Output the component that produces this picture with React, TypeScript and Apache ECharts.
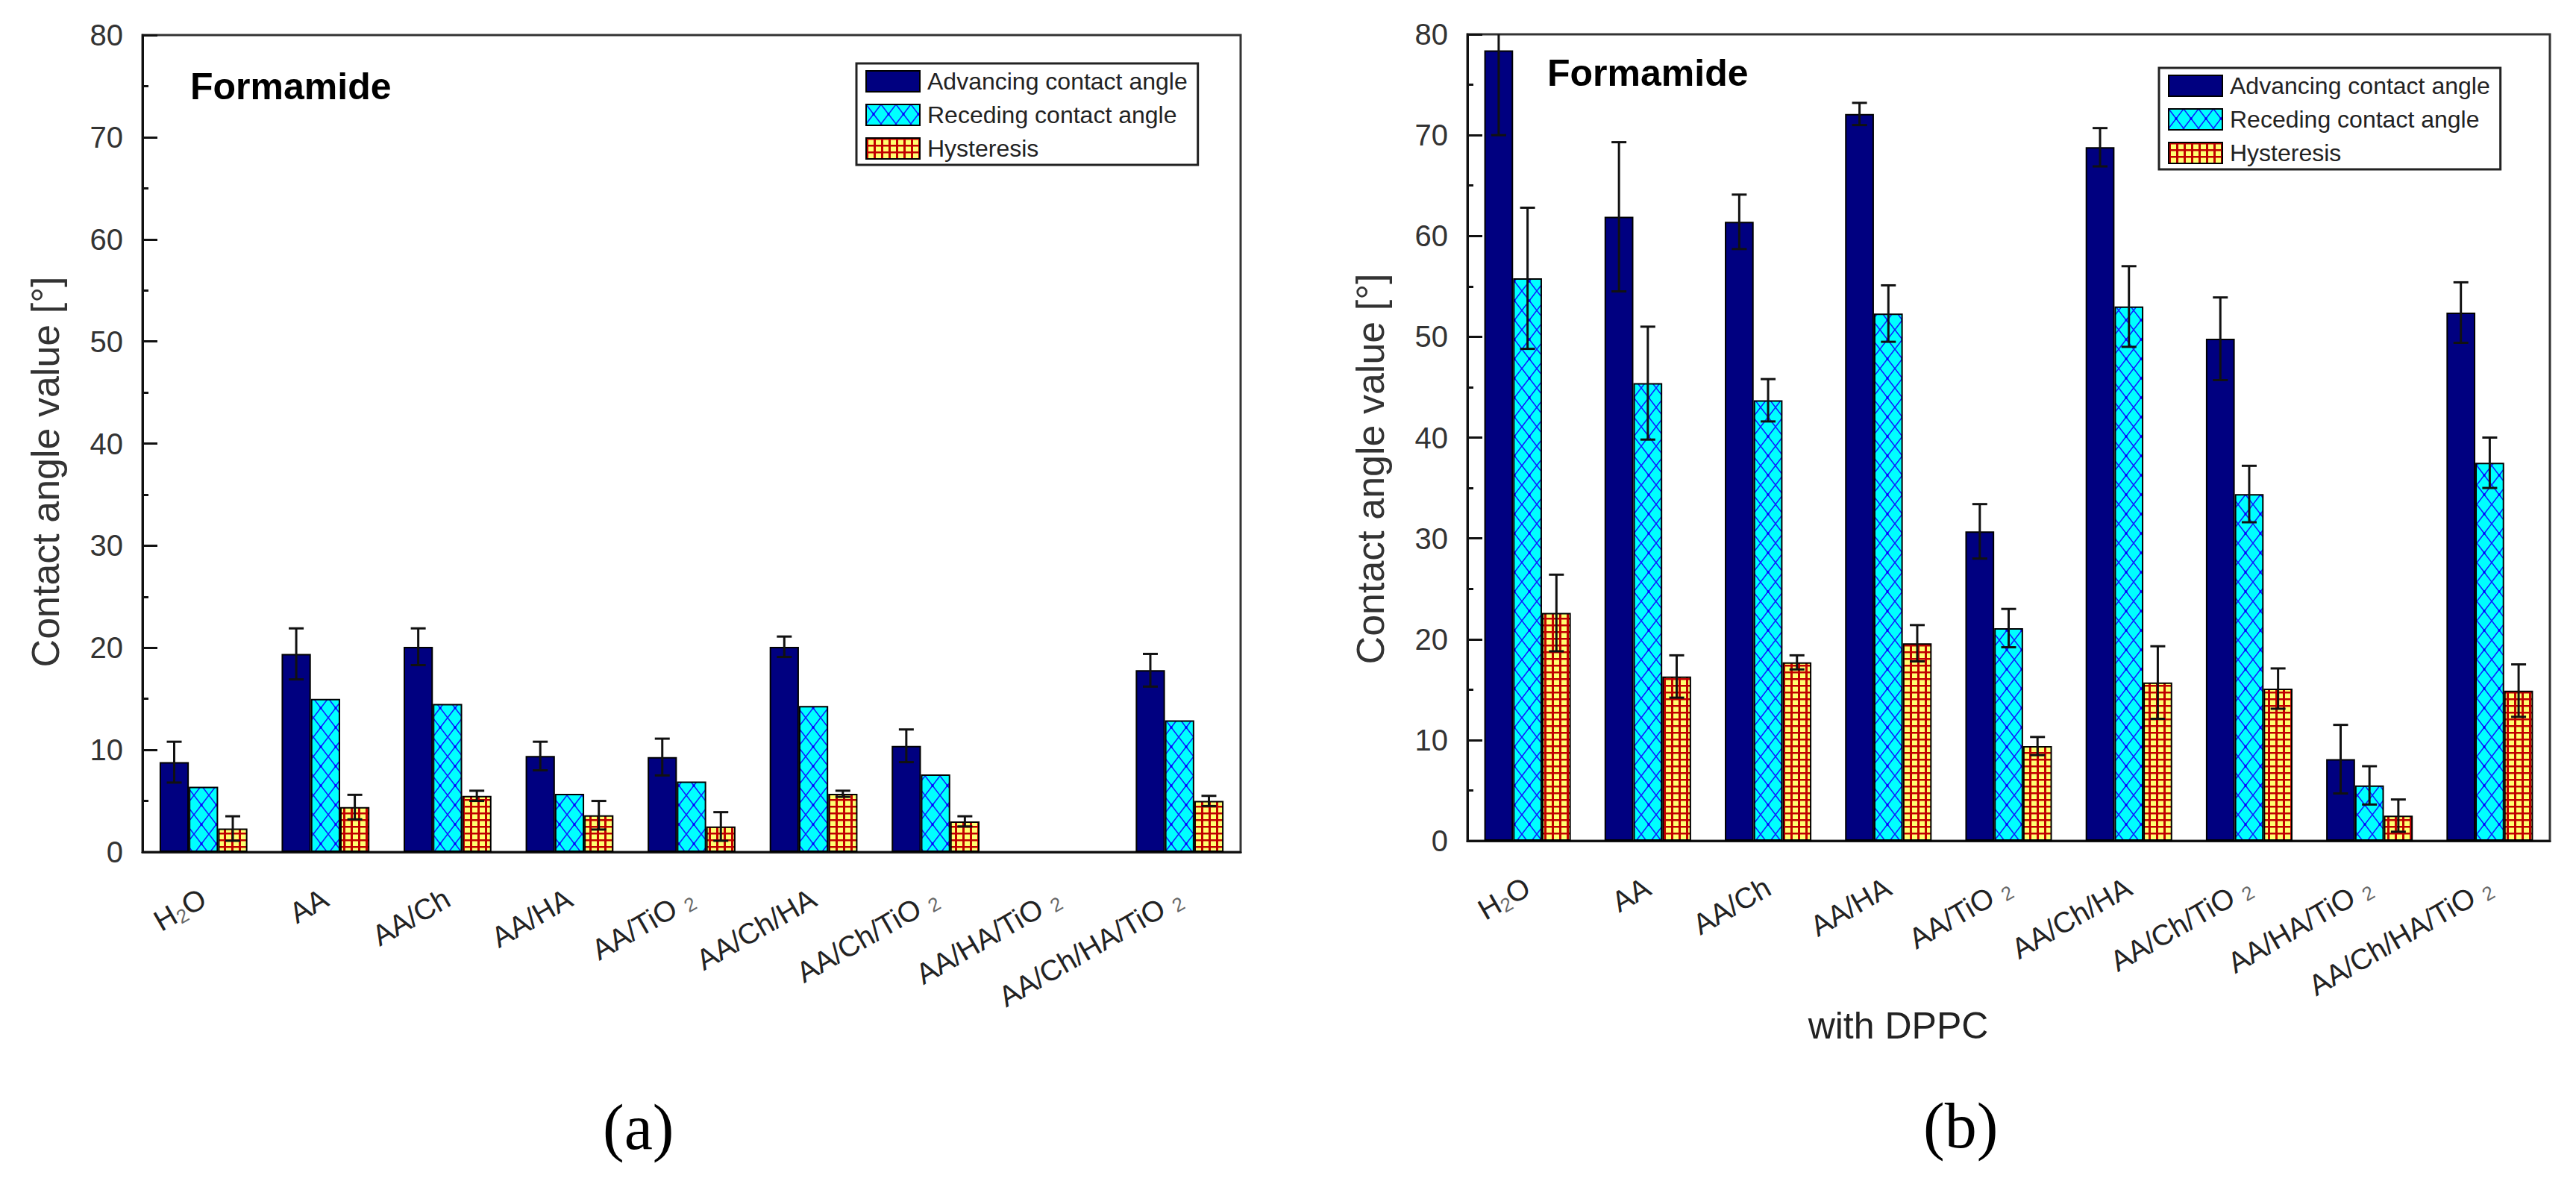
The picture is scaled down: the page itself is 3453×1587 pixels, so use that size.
import React, { useEffect, useRef } from 'react';
import * as echarts from 'echarts';

const categories = ['H2O', 'AA', 'AA/Ch', 'AA/HA', 'AA/TiO2', 'AA/Ch/HA', 'AA/Ch/TiO2', 'AA/HA/TiO2', 'AA/Ch/HA/TiO2'];
const yTicks = { min: 0, max: 80, interval: 10 };
const seriesNames = ['Advancing contact angle', 'Receding contact angle', 'Hysteresis'];

// (a) without DPPC
const leftAdvancing = [8.8, 19.4, 20.1, 9.4, 9.3, 20.1, 10.4, null, 17.8];
const leftAdvancingErr = [2.0, 2.5, 1.8, 1.4, 1.8, 1.0, 1.6, null, 1.6];
const leftReceding = [6.4, 15.0, 14.5, 5.7, 6.9, 14.3, 7.6, null, 12.9];
const leftHysteresis = [2.3, 4.4, 5.5, 3.6, 2.5, 5.7, 3.0, null, 5.0];
const leftHysteresisErr = [1.2, 1.2, 0.5, 1.4, 1.4, 0.3, 0.5, null, 0.5];

// (b) with DPPC
const rightAdvancing = [78.4, 61.9, 61.4, 72.1, 30.7, 68.8, 49.8, 8.1, 52.4];
const rightAdvancingErr = [8.4, 7.4, 2.7, 1.1, 2.7, 1.9, 4.1, 3.4, 3.0];
const rightReceding = [55.8, 45.4, 43.7, 52.3, 21.1, 53.0, 34.4, 5.5, 37.5];
const rightRecedingErr = [7.0, 5.6, 2.1, 2.8, 1.9, 4.0, 2.8, 1.9, 2.5];
const rightHysteresis = [22.6, 16.3, 17.7, 19.6, 9.4, 15.7, 15.1, 2.5, 14.9];
const rightHysteresisErr = [3.8, 2.1, 0.7, 1.8, 0.9, 3.6, 2.0, 1.6, 2.6];

const FONT = '"Liberation Sans", Arial, Helvetica, sans-serif';
const BAR_FRAC = 0.24;

function crossPattern(): any {
  const w = 20, h = 26;
  const c = document.createElement('canvas');
  c.width = w; c.height = h;
  const ctx = c.getContext('2d')!;
  ctx.fillStyle = '#00FFFF';
  ctx.fillRect(0, 0, w, h);
  ctx.strokeStyle = '#1020FF';
  ctx.lineWidth = 1.6;
  ctx.beginPath();
  ctx.moveTo(0, 0); ctx.lineTo(w, h);
  ctx.moveTo(w, 0); ctx.lineTo(0, h);
  ctx.stroke();
  ctx.fillStyle = '#0000FF';
  ctx.fillRect(w / 2 - 1.5, h / 2 - 1.5, 3, 3);
  return { image: c.toDataURL('image/png'), repeat: 'repeat', imageWidth: w, imageHeight: h };
}

function gridPattern(): any {
  const w = 10, h = 9;
  const c = document.createElement('canvas');
  c.width = w; c.height = h;
  const ctx = c.getContext('2d')!;
  ctx.fillStyle = '#FFFF70';
  ctx.fillRect(0, 0, w, h);
  ctx.fillStyle = '#C00000';
  ctx.fillRect(0, 0, 3, h);
  ctx.fillRect(0, 0, w, 2.5);
  return { image: c.toDataURL('image/png'), repeat: 'repeat', imageWidth: w, imageHeight: h };
}

function fmtCat(v: string) {
  return v.replace('H2O', 'H{h|2}O').replace(/TiO2$/, 'TiO{t|2}');
}

function errorRender(slot: number) {
  return (params: any, api: any) => {
    const idx = api.value(0);
    const v = api.value(1);
    const e = api.value(2);
    if (isNaN(v) || isNaN(e)) return null;
    const band = api.size([1, 0])[0];
    const cx = api.coord([idx, 0])[0] + (slot - 1) * band * BAR_FRAC;
    const yTop = api.coord([idx, v + e])[1];
    const yBot = api.coord([idx, v - e])[1];
    const cap = 10;
    const style = { stroke: '#111', lineWidth: 3 };
    return {
      type: 'group',
      children: [
        { type: 'line', shape: { x1: cx, y1: yTop, x2: cx, y2: yBot }, style },
        { type: 'line', shape: { x1: cx - cap, y1: yTop, x2: cx + cap, y2: yTop }, style },
        { type: 'line', shape: { x1: cx - cap, y1: yBot, x2: cx + cap, y2: yBot }, style },
      ],
    };
  };
}

function errData(vals: (number | null)[], errs: (number | null)[]) {
  const out: number[][] = [];
  vals.forEach((v, i) => {
    const e = errs[i];
    if (v != null && e != null) out.push([i, v, e]);
  });
  return out;
}

export default function App() {
  const ref = useRef<HTMLDivElement>(null);
  useEffect(() => {
    document.body.style.margin = '0';
    document.body.style.overflow = 'hidden';
    const chart = echarts.init(ref.current!, null, { renderer: 'svg' });
    const cross = crossPattern();
    const grid = gridPattern();
    const colors = ['#000080', cross, grid];

    const makeX = (gridIndex: number, extra: any = {}) => ({
      type: 'category',
      gridIndex,
      data: categories,
      axisLine: { lineStyle: { color: '#111', width: 3 } },
      axisTick: { show: false },
      axisLabel: {
        interval: 0,
        rotate: 30,
        margin: 59,
        fontSize: 39,
        lineHeight: 44,
        fontFamily: FONT,
        color: '#222',
        formatter: fmtCat,
        rich: {
          h: { fontSize: 26, lineHeight: 20, verticalAlign: 'bottom', color: '#666', fontFamily: FONT },
          t: { fontSize: 26, lineHeight: 30, verticalAlign: 'bottom', color: '#666', padding: [0, 0, 0, 12], fontFamily: FONT },
        },
      },
      ...extra,
    });

    const makeY = (gridIndex: number, padRight: number) => ({
      type: 'value',
      gridIndex,
      min: yTicks.min,
      max: yTicks.max,
      interval: yTicks.interval,
      name: 'Contact angle value [°]',
      nameLocation: 'middle',
      nameGap: 104,
      nameTextStyle: { fontSize: 52, fontFamily: FONT, color: '#333', padding: [0, padRight, 0, 0] },
      axisLine: { show: true, lineStyle: { color: '#111', width: 3 } },
      axisTick: { show: true, inside: true, length: 20, lineStyle: { color: '#111', width: 3 } },
      minorTick: { show: true, splitNumber: 2, length: 8, lineStyle: { color: '#111', width: 3 } },
      splitLine: { show: false },
      axisLabel: { fontSize: 40, fontFamily: FONT, color: '#333', margin: 26 },
    });

    const barSeries = (gridIndex: number, vals: (number | null)[], slot: number) => ({
      type: 'bar',
      name: seriesNames[slot],
      xAxisIndex: gridIndex,
      yAxisIndex: gridIndex,
      data: vals,
      barWidth: '24%',
      barGap: '0%',
      itemStyle: { color: colors[slot], borderColor: '#000', borderWidth: 2 },
      z: 2,
    });

    const errSeries = (gridIndex: number, vals: (number | null)[], errs: (number | null)[], slot: number) => ({
      type: 'custom',
      xAxisIndex: gridIndex,
      yAxisIndex: gridIndex,
      renderItem: errorRender(slot),
      data: errData(vals, errs),
      encode: { x: 0, y: 1 },
      clip: true,
      z: 5,
      silent: true,
    });

    const legendBase = {
      orient: 'vertical',
      data: seriesNames,
      icon: 'rect',
      itemWidth: 72,
      itemHeight: 28,
      itemGap: 13,
      padding: [8, 14, 6, 12],
      borderColor: '#222',
      borderWidth: 3,
      backgroundColor: '#fff',
      itemStyle: { borderColor: '#000', borderWidth: 2 },
      textStyle: { fontSize: 32, fontFamily: FONT, color: '#222', padding: [0, 0, 0, 5], lineHeight: 28 },
      selectedMode: false,
    };

    const option: any = {
      animation: false,
      backgroundColor: '#fff',
      title: [
        { text: 'Formamide', left: 255, top: 91, padding: 0, textStyle: { fontSize: 50, fontWeight: 'bold', fontFamily: FONT, color: '#000' } },
        { text: 'Formamide', left: 2074, top: 73, padding: 0, textStyle: { fontSize: 50, fontWeight: 'bold', fontFamily: FONT, color: '#000' } },
      ],
      legend: [
        { ...legendBase, left: 1148, top: 85 },
        { ...legendBase, left: 2894, top: 91 },
      ],
      grid: [
        { left: 191, top: 47, width: 1472, height: 1095, show: true, borderColor: '#333', borderWidth: 3, containLabel: false },
        { left: 1967, top: 46, width: 1451, height: 1081, show: true, borderColor: '#333', borderWidth: 3, containLabel: false },
      ],
      xAxis: [
        makeX(0),
        makeX(1, {
          name: 'with DPPC',
          nameLocation: 'middle',
          nameGap: 184,
          nameTextStyle: { fontSize: 50, fontFamily: FONT, color: '#222', padding: [0, 296, 0, 0] },
        }),
      ],
      yAxis: [makeY(0, 76), makeY(1, 84)],
      series: [
        barSeries(0, leftAdvancing, 0),
        barSeries(0, leftReceding, 1),
        barSeries(0, leftHysteresis, 2),
        errSeries(0, leftAdvancing, leftAdvancingErr, 0),
        errSeries(0, leftHysteresis, leftHysteresisErr, 2),
        barSeries(1, rightAdvancing, 0),
        barSeries(1, rightReceding, 1),
        barSeries(1, rightHysteresis, 2),
        errSeries(1, rightAdvancing, rightAdvancingErr, 0),
        errSeries(1, rightReceding, rightRecedingErr, 1),
        errSeries(1, rightHysteresis, rightHysteresisErr, 2),
      ],
      graphic: [
        { type: 'text', left: 858 - 50, top: 1468, style: { text: '(a)', fontSize: 86, fontFamily: '"Liberation Serif", "Times New Roman", serif', fill: '#000' } },
        { type: 'text', left: 2628 - 50, top: 1466, style: { text: '(b)', fontSize: 86, fontFamily: '"Liberation Serif", "Times New Roman", serif', fill: '#000' } },
      ],
    };
    chart.setOption(option);
    return () => chart.dispose();
  }, []);
  return <div ref={ref} style={{ width: 3453, height: 1587, background: '#fff' }} />;
}
